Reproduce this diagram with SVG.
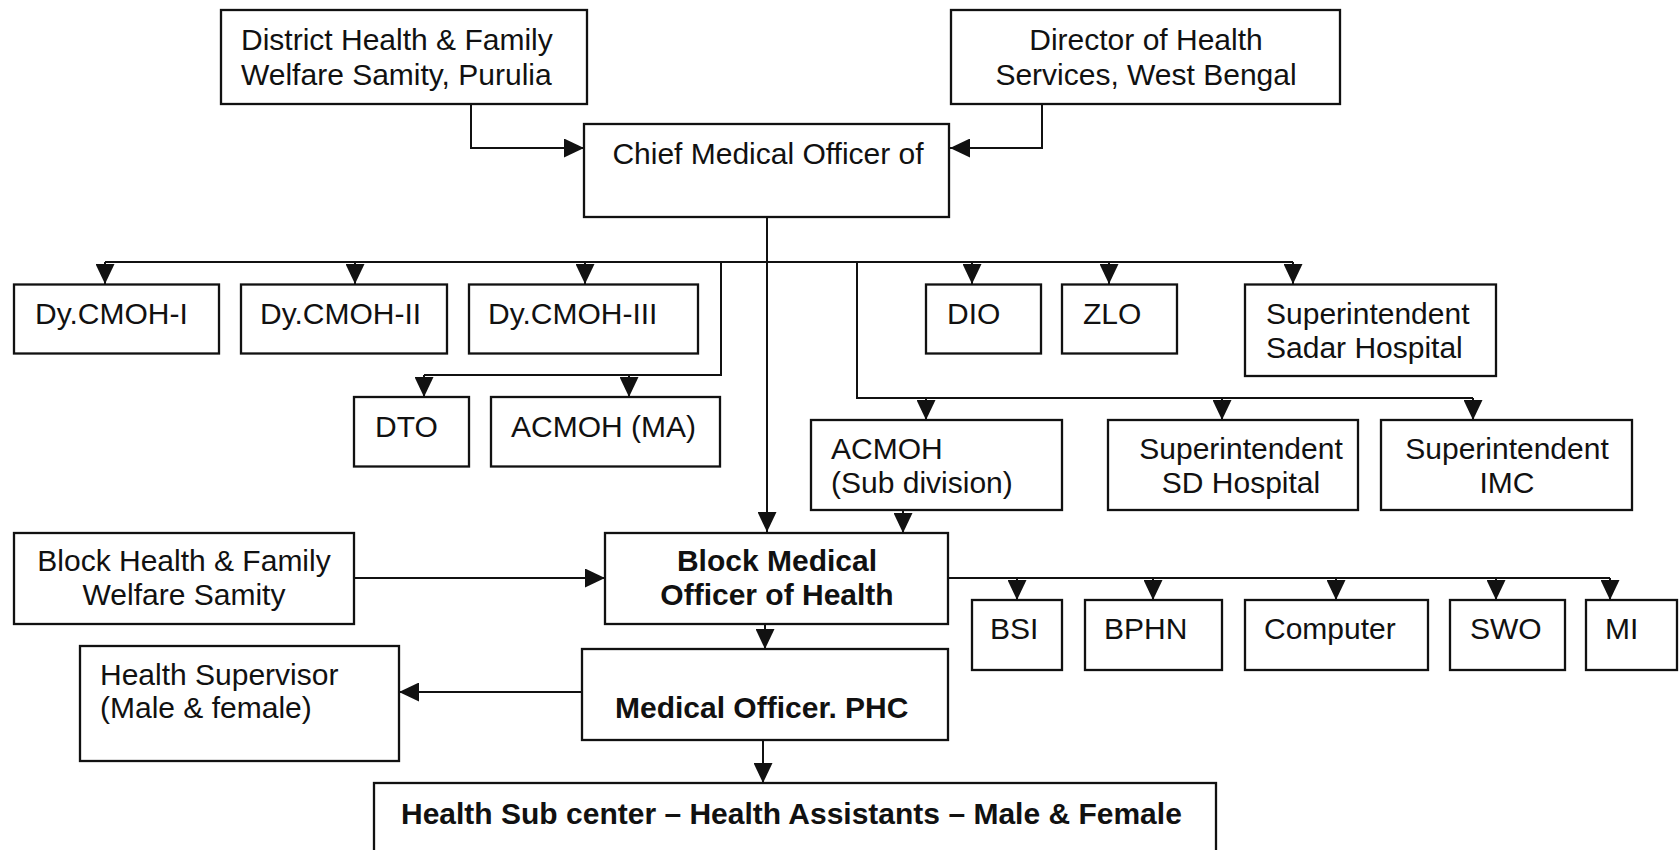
<svg xmlns="http://www.w3.org/2000/svg" width="1679" height="850" viewBox="0 0 1679 850">
<style>
.b{fill:#fff;stroke:#111;stroke-width:2.3}
.t{font-family:"Liberation Sans",Arial,sans-serif;font-size:30px;fill:#111}
.bd{font-weight:bold}
.m{text-anchor:middle}
.c{fill:none;stroke:#111;stroke-width:2}
</style>
<defs>
<marker id="ar" markerUnits="userSpaceOnUse" markerWidth="20" markerHeight="19" refX="20" refY="9.5" orient="auto">
<path d="M0,0 L20,9.5 L0,19 z" fill="#111"/>
</marker>
</defs>
<rect width="1679" height="850" fill="#fff"/>
<g id="connectors">
<path class="c" d="M471,104 V148 H584" marker-end="url(#ar)"/>
<path class="c" d="M1042,104 V148 H950" marker-end="url(#ar)"/>
<path class="c" d="M767,217 V532" marker-end="url(#ar)"/>
<path class="c" d="M105,262 H1293"/>
<path class="c" d="M105,262 V284" marker-end="url(#ar)"/>
<path class="c" d="M355,262 V284" marker-end="url(#ar)"/>
<path class="c" d="M585,262 V284" marker-end="url(#ar)"/>
<path class="c" d="M972,262 V284" marker-end="url(#ar)"/>
<path class="c" d="M1109,262 V284" marker-end="url(#ar)"/>
<path class="c" d="M1293,262 V284" marker-end="url(#ar)"/>
<path class="c" d="M721,262 V375 H424"/>
<path class="c" d="M424,375 V397" marker-end="url(#ar)"/>
<path class="c" d="M629,375 V397" marker-end="url(#ar)"/>
<path class="c" d="M857,262 V398 H1473"/>
<path class="c" d="M926,398 V420" marker-end="url(#ar)"/>
<path class="c" d="M1222,398 V420" marker-end="url(#ar)"/>
<path class="c" d="M1473,398 V420" marker-end="url(#ar)"/>
<path class="c" d="M903,510 V533" marker-end="url(#ar)"/>
<path class="c" d="M354,578 H605" marker-end="url(#ar)"/>
<path class="c" d="M948,578 H1610"/>
<path class="c" d="M1017,578 V600" marker-end="url(#ar)"/>
<path class="c" d="M1153,578 V600" marker-end="url(#ar)"/>
<path class="c" d="M1336,578 V600" marker-end="url(#ar)"/>
<path class="c" d="M1496,578 V600" marker-end="url(#ar)"/>
<path class="c" d="M1610,578 V600" marker-end="url(#ar)"/>
<path class="c" d="M765,624 V649" marker-end="url(#ar)"/>
<path class="c" d="M605,692 H399" marker-end="url(#ar)"/>
<path class="c" d="M763,740 V783" marker-end="url(#ar)"/>
</g>
<g id="district"><rect class="b" x="221" y="10" width="366" height="94"/>
<text class="t" x="241" y="49.5">District Health &amp; Family</text>
<text class="t" x="241" y="84.5">Welfare Samity, Purulia</text></g>
<g id="director"><rect class="b" x="951" y="10" width="389" height="94"/>
<text class="t m" x="1146" y="49.5">Director of Health</text>
<text class="t m" x="1146" y="84.5">Services, West Bengal</text></g>
<g id="cmo"><rect class="b" x="584" y="124" width="365" height="93"/>
<text class="t m" x="768" y="163.5">Chief Medical Officer of</text></g>
<g id="dycmoh1"><rect class="b" x="14" y="284.5" width="205" height="69"/>
<text class="t" x="35" y="324">Dy.CMOH-I</text></g>
<g id="dycmoh2"><rect class="b" x="241" y="284.5" width="206" height="69"/>
<text class="t" x="260" y="324">Dy.CMOH-II</text></g>
<g id="dycmoh3"><rect class="b" x="469" y="284.5" width="229" height="69"/>
<text class="t" x="488" y="324">Dy.CMOH-III</text></g>
<g id="dto"><rect class="b" x="354" y="397" width="115" height="69.5"/>
<text class="t" x="375" y="437">DTO</text></g>
<g id="acmoh-ma"><rect class="b" x="491" y="397" width="229" height="69.5"/>
<text class="t" x="511" y="437">ACMOH (MA)</text></g>
<g id="dio"><rect class="b" x="926" y="284.5" width="115" height="69"/>
<text class="t" x="947" y="324">DIO</text></g>
<g id="zlo"><rect class="b" x="1062" y="284.5" width="115" height="69"/>
<text class="t" x="1083" y="324">ZLO</text></g>
<g id="sadar"><rect class="b" x="1245" y="284.5" width="251" height="91.5"/>
<text class="t" x="1266" y="324">Superintendent</text>
<text class="t" x="1266" y="358">Sadar Hospital</text></g>
<g id="acmoh-sub"><rect class="b" x="811" y="420" width="251" height="90"/>
<text class="t" x="831" y="459">ACMOH</text>
<text class="t" x="831" y="493">(Sub division)</text></g>
<g id="sd-hospital"><rect class="b" x="1108" y="420" width="250" height="90"/>
<text class="t m" x="1241" y="459">Superintendent</text>
<text class="t m" x="1241" y="493">SD Hospital</text></g>
<g id="imc"><rect class="b" x="1381" y="420" width="251" height="90"/>
<text class="t m" x="1507" y="459">Superintendent</text>
<text class="t m" x="1507" y="493">IMC</text></g>
<g id="block-samity"><rect class="b" x="14" y="533" width="340" height="91"/>
<text class="t m" x="184" y="571">Block Health &amp; Family</text>
<text class="t m" x="184" y="605">Welfare Samity</text></g>
<g id="bmoh"><rect class="b" x="605" y="533" width="343" height="91"/>
<text class="t bd m" x="777" y="571">Block Medical</text>
<text class="t bd m" x="777" y="605">Officer of Health</text></g>
<g id="bsi"><rect class="b" x="972" y="600" width="90" height="70"/>
<text class="t" x="990" y="639">BSI</text></g>
<g id="bphn"><rect class="b" x="1085" y="600" width="137" height="70"/>
<text class="t" x="1104" y="639">BPHN</text></g>
<g id="computer"><rect class="b" x="1245" y="600" width="183" height="70"/>
<text class="t" x="1264" y="639">Computer</text></g>
<g id="swo"><rect class="b" x="1450" y="600" width="115" height="70"/>
<text class="t" x="1470" y="639">SWO</text></g>
<g id="mi"><rect class="b" x="1586" y="600" width="91" height="70"/>
<text class="t" x="1605" y="639">MI</text></g>
<g id="health-supervisor"><rect class="b" x="80" y="646" width="319" height="115"/>
<text class="t" x="100" y="685">Health Supervisor</text>
<text class="t" x="100" y="718">(Male &amp; female)</text></g>
<g id="mo-phc"><rect class="b" x="582" y="649" width="366" height="91"/>
<text class="t bd" x="615" y="718">Medical Officer. PHC</text></g>
<g id="sub-center"><rect class="b" x="374" y="783" width="842" height="80"/>
<text class="t bd" x="401" y="824">Health Sub center – Health Assistants – Male &amp; Female</text></g>
</svg>
